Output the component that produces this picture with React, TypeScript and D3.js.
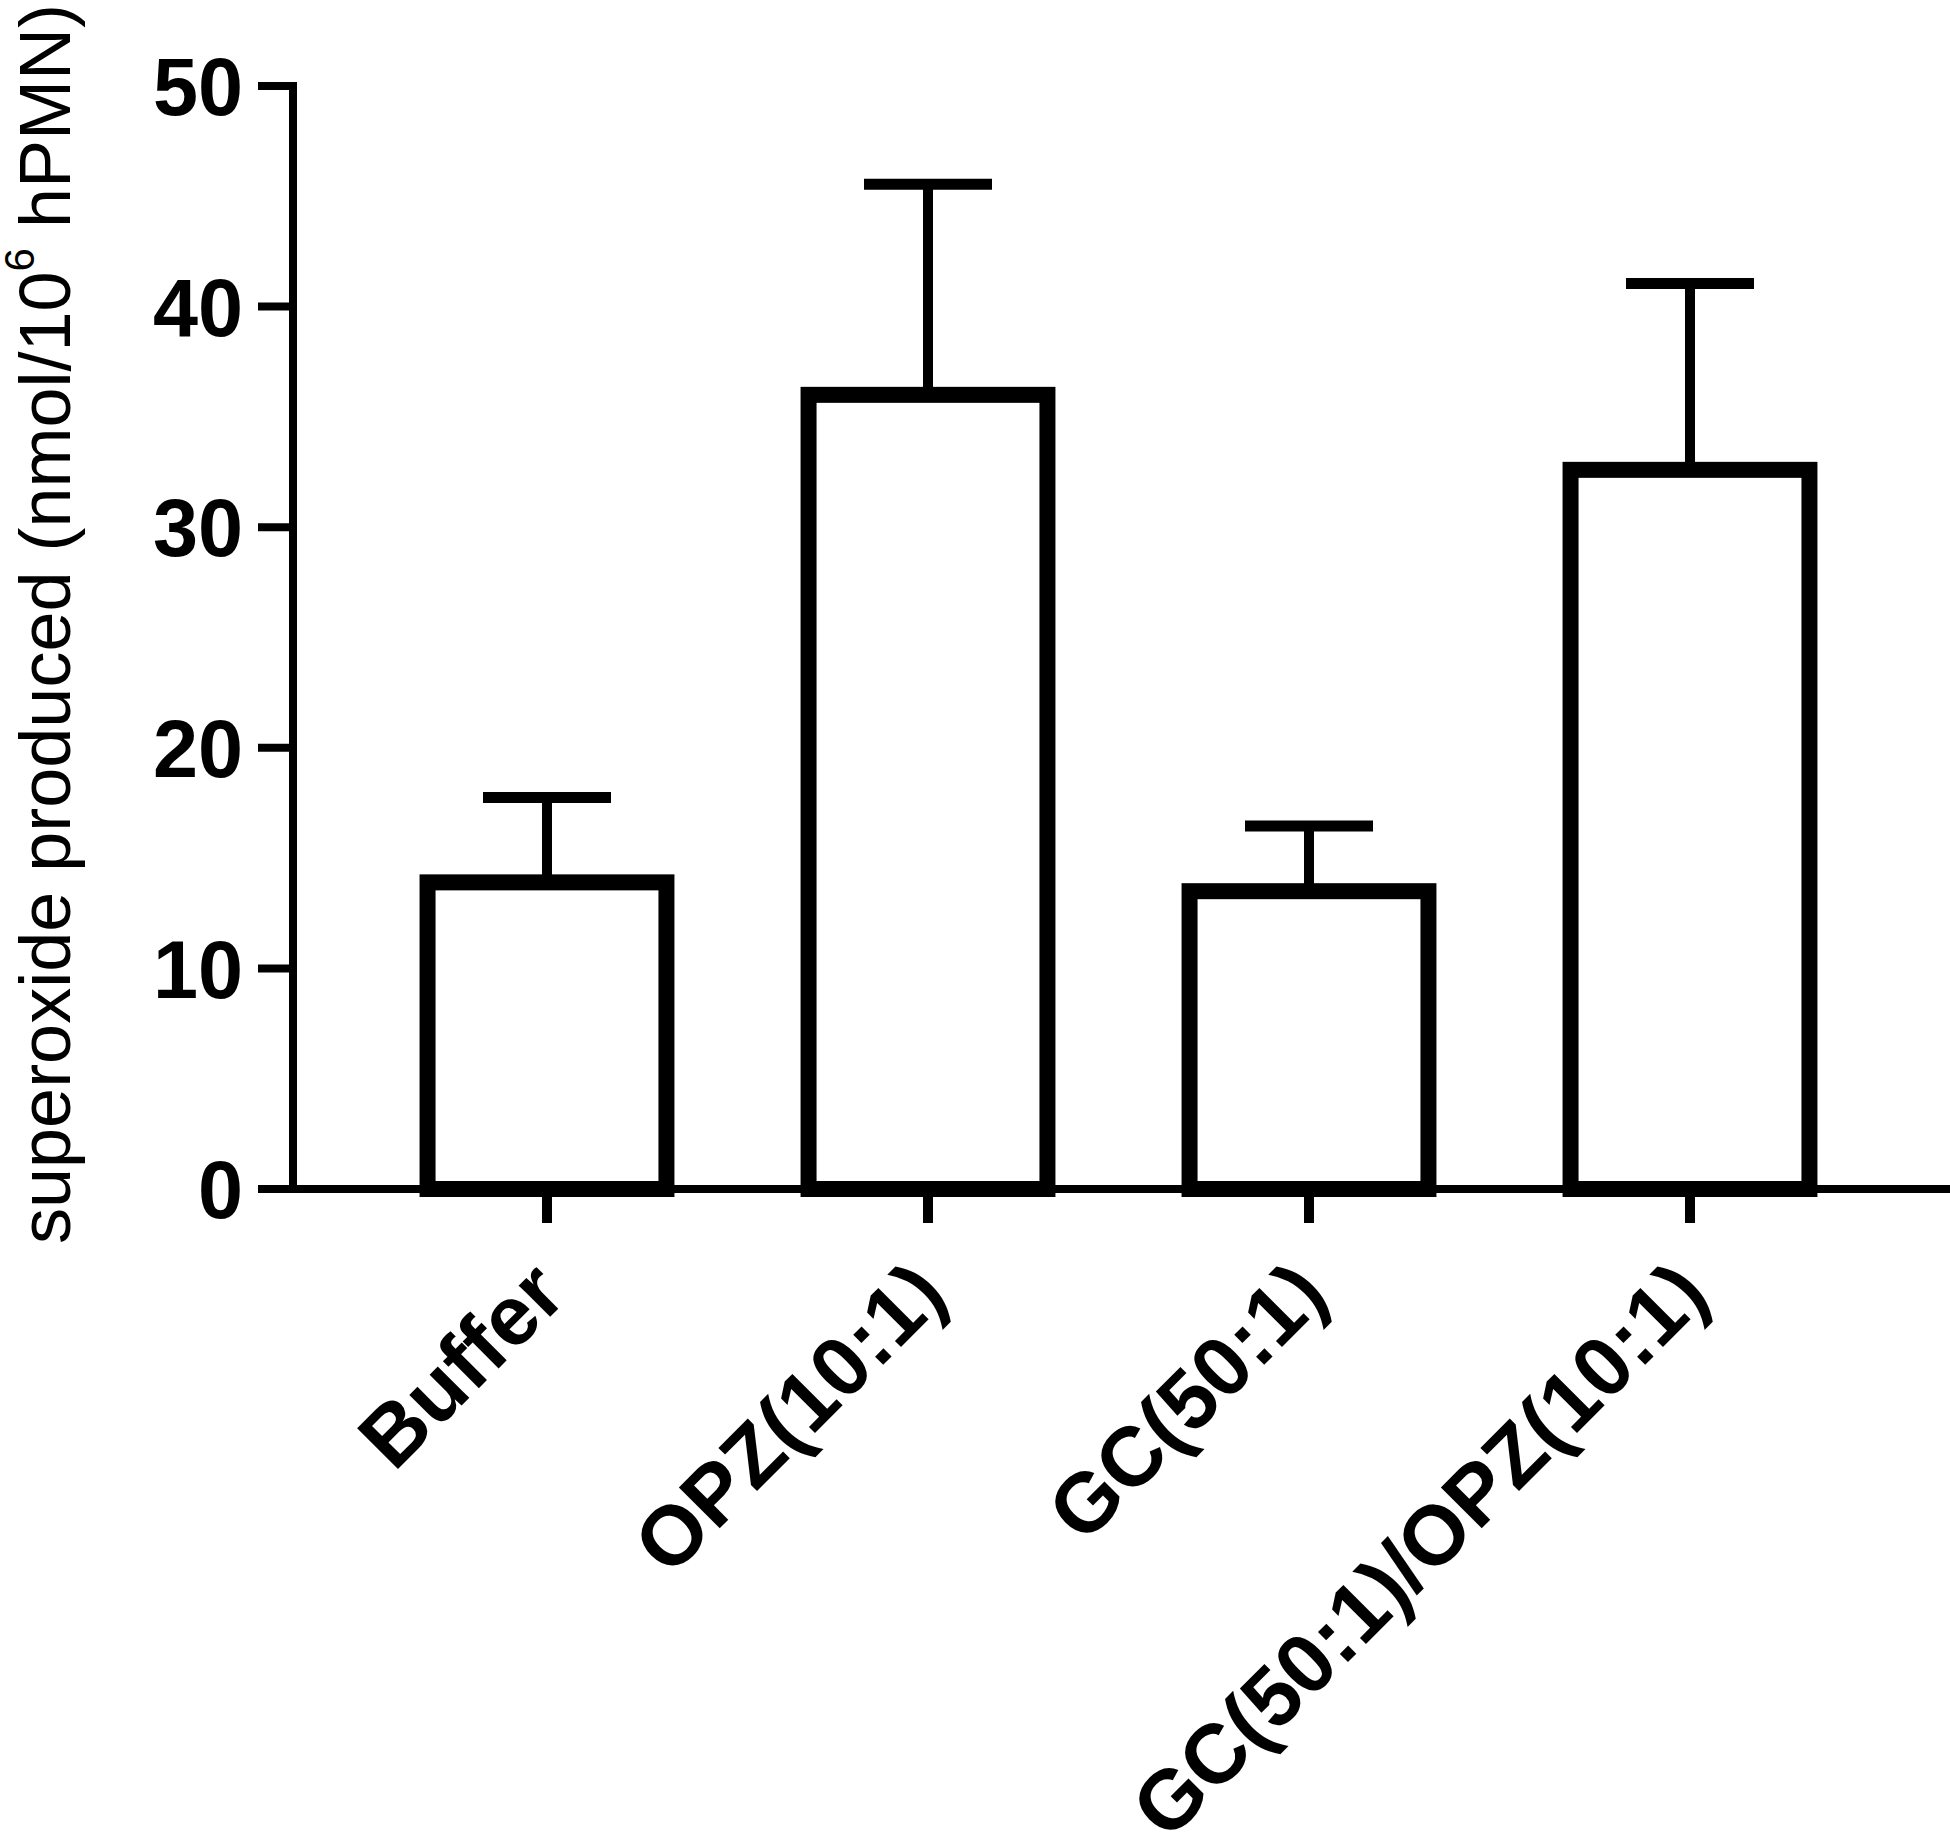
import React, { useRef, useEffect } from 'react';
import * as d3 from 'd3';

const categories = ['Buffer', 'OPZ(10:1)', 'GC(50:1)', 'GC(50:1)/OPZ(10:1)'];
const means = [13.9, 36.0, 13.5, 32.6];
const sems = [3.85, 9.55, 2.95, 8.45];
const yTicks = [0, 10, 20, 30, 40, 50];

const W = 1950;
const H = 1834;

const App = () => {
  const ref = useRef<SVGSVGElement>(null);

  useEffect(() => {
    const svg = d3.select(ref.current);
    svg.selectAll('*').remove();

    const axisX = 293;
    const y = d3.scaleLinear().domain([0, 50]).range([1189, 86]);
    const x = d3.scaleBand()
      .domain(categories)
      .range([356.5, 1880.5])
      .paddingInner(0.373)
      .paddingOuter(0.1865);

    const font = "'Liberation Sans', Arial, Helvetica, sans-serif";
    const data = categories.map((c, i) => ({ cat: c, mean: means[i], sem: sems[i] }));

    // bars (open boxes)
    svg.append('g')
      .selectAll('rect')
      .data(data)
      .join('rect')
      .attr('x', d => x(d.cat)!)
      .attr('y', d => y(d.mean))
      .attr('width', x.bandwidth())
      .attr('height', d => y(0) - y(d.mean))
      .attr('fill', 'white')
      .attr('stroke', 'black')
      .attr('stroke-width', 16);

    // error bars, upper only
    const eb = svg.append('g').attr('stroke', 'black');
    eb.selectAll('line.stem')
      .data(data)
      .join('line')
      .attr('class', 'stem')
      .attr('x1', d => x(d.cat)! + x.bandwidth() / 2)
      .attr('x2', d => x(d.cat)! + x.bandwidth() / 2)
      .attr('y1', d => y(d.mean))
      .attr('y2', d => y(d.mean + d.sem))
      .attr('stroke-width', 10);
    eb.selectAll('line.cap')
      .data(data)
      .join('line')
      .attr('class', 'cap')
      .attr('x1', d => x(d.cat)! + x.bandwidth() / 2 - 64)
      .attr('x2', d => x(d.cat)! + x.bandwidth() / 2 + 64)
      .attr('y1', d => y(d.mean + d.sem))
      .attr('y2', d => y(d.mean + d.sem))
      .attr('stroke-width', 11);

    // y axis
    const ya = svg.append('g').attr('stroke', 'black');
    ya.append('line')
      .attr('x1', axisX).attr('x2', axisX)
      .attr('y1', y(0)).attr('y2', y(50) - 4)
      .attr('stroke-width', 8);
    ya.selectAll('line.tick')
      .data(yTicks)
      .join('line')
      .attr('class', 'tick')
      .attr('x1', 258).attr('x2', axisX)
      .attr('y1', d => y(d)).attr('y2', d => y(d))
      .attr('stroke-width', 8);
    svg.append('g')
      .selectAll('text')
      .data(yTicks)
      .join('text')
      .attr('x', 243)
      .attr('y', d => y(d))
      .attr('dy', '0.36em')
      .attr('text-anchor', 'end')
      .attr('font-family', font)
      .attr('font-weight', 'bold')
      .attr('font-size', 81)
      .text(d => d);

    // x axis
    const xa = svg.append('g').attr('stroke', 'black');
    xa.append('line')
      .attr('x1', 258).attr('x2', W)
      .attr('y1', y(0)).attr('y2', y(0))
      .attr('stroke-width', 8);
    xa.selectAll('line.tick')
      .data(categories)
      .join('line')
      .attr('class', 'tick')
      .attr('x1', d => x(d)! + x.bandwidth() / 2)
      .attr('x2', d => x(d)! + x.bandwidth() / 2)
      .attr('y1', y(0)).attr('y2', y(0) + 34)
      .attr('stroke-width', 10);
    svg.append('g')
      .selectAll('text')
      .data(categories)
      .join('text')
      .attr('transform', d => `translate(${x(d)! + x.bandwidth() / 2 + 22},${1298}) rotate(-45)`)
      .attr('text-anchor', 'end')
      .attr('font-family', font)
      .attr('font-weight', 'bold')
      .attr('font-size', 84)
      .text(d => d);

    // y axis title
    const yt = svg.append('text')
      .attr('transform', `translate(70,624) rotate(-90)`)
      .attr('text-anchor', 'middle')
      .attr('font-family', font)
      .attr('font-size', 72);
    yt.append('tspan').text('superoxide produced (nmol/10');
    yt.append('tspan').attr('font-size', 42).attr('dy', -36).text('6');
    yt.append('tspan').attr('dy', 36).text(' hPMN)');
  }, []);

  return (
    <svg
      ref={ref}
      width={W}
      height={H}
      style={{ position: 'absolute', left: 0, top: 0, display: 'block', background: 'white' }}
    ></svg>
  );
};

export default App;
